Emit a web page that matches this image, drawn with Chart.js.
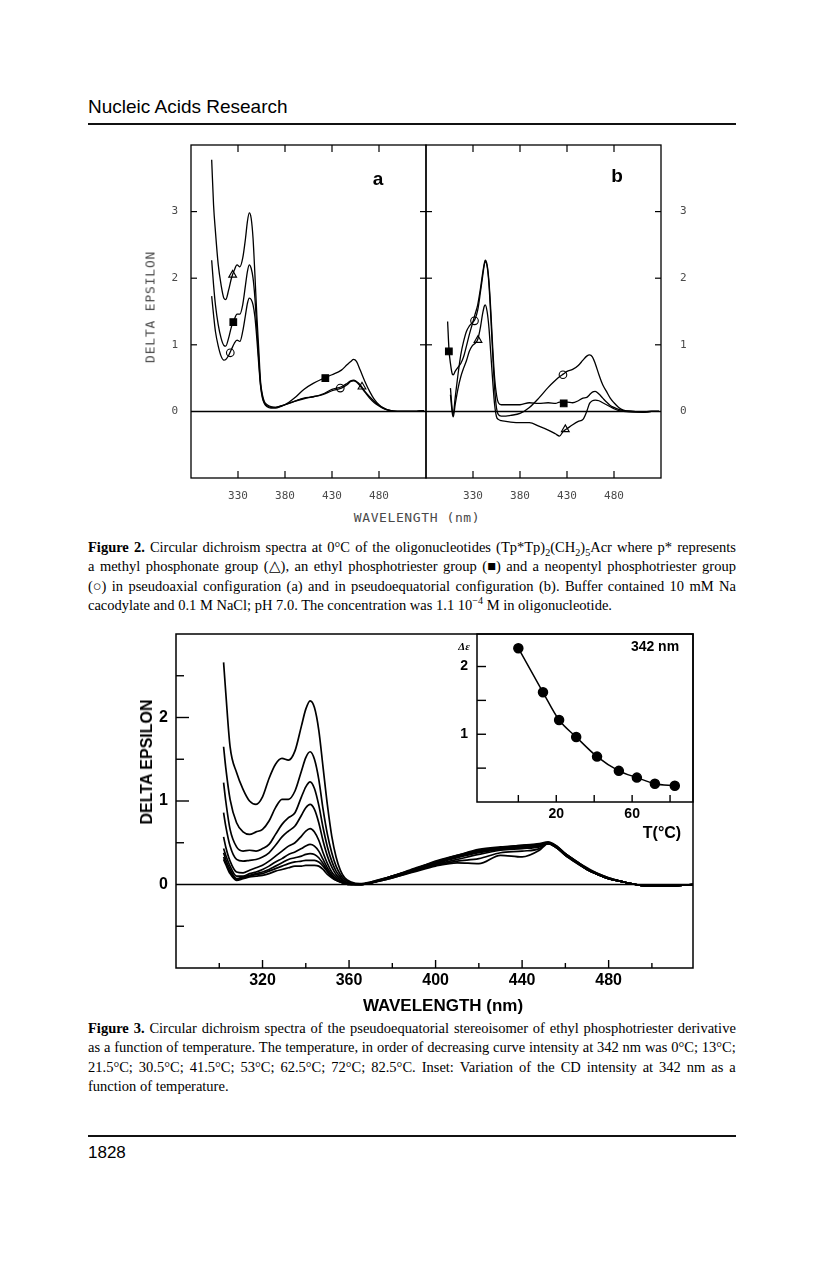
<!DOCTYPE html>
<html>
<head>
<meta charset="utf-8">
<script src="https://cdn.jsdelivr.net/npm/chart.js@4.4.1/dist/chart.umd.min.js"></script>
<style>
  body { margin: 0; background: #fff; }
  #page { position: relative; width: 816px; height: 1275px; overflow: hidden; background: #fff; }
  canvas { position: absolute; }
  .abs { position: absolute; white-space: nowrap; line-height: 1; }
  .ctr { transform: translate(-50%, -50%); }
  .rot { transform: translate(-50%, -50%) rotate(-90deg); }
  .mono { font-family: "DejaVu Sans Mono", "Liberation Mono", monospace; color: #4a4a4a; }
  .hb { font-family: "Liberation Sans Narrow", "Liberation Sans", Arial, sans-serif; font-weight: bold; }
  .rule { position: absolute; left: 88px; width: 648px; height: 2px; background: #111; }
  .cap { position: absolute; left: 88px; width: 648px; font-family: "Liberation Serif", "Times New Roman", serif; font-size: 14.5px; color: #000; }
  .cap div { height: 19.3px; line-height: 19.3px; white-space: nowrap; }
  .jl { display: flex; justify-content: space-between; }
  sub, sup { font-size: 70%; line-height: 0; }
</style>
</head>
<body>
<div id="page">
  <div class="abs" style="left:88px; top:96px; font: 19px 'Liberation Sans', Arial, sans-serif;">Nucleic Acids Research</div>
  <div class="rule" style="top:123px;"></div>

  <!-- Figure 2 -->
  <canvas id="fig2a"></canvas>
  <canvas id="fig2b"></canvas>
  <div class="abs rot mono" style="left:150px; top:307px; font-size:13px; letter-spacing:0.8px;">DELTA EPSILON</div>
  <div class="abs ctr mono" style="left:417px; top:517px; font-size:13px; letter-spacing:0.6px;">WAVELENGTH (nm)</div>
  <div class="abs ctr" style="left:378px; top:179px; font: bold 19px 'Liberation Sans', Arial, sans-serif;">a</div>
  <div class="abs ctr" style="left:617px; top:176px; font: bold 19px 'Liberation Sans', Arial, sans-serif;">b</div>

  <div class="cap" style="top:538px;">
    <div class="jl"><b>Figure</b> <b>2.</b> Circular dichroism spectra at 0°C of the oligonucleotides (Tp*Tp)<sub>2</sub>(CH<sub>2</sub>)<sub>5</sub>Acr where p* represents</div>
    <div class="jl">a methyl phosphonate group (△), an ethyl phosphotriester group (■) and a neopentyl phosphotriester group</div>
    <div class="jl">(○) in pseudoaxial configuration (a) and in pseudoequatorial configuration (b). Buffer contained 10 mM Na</div>
    <div>cacodylate and 0.1 M NaCl; pH 7.0. The concentration was 1.1 10<sup>−4</sup> M in oligonucleotide.</div>
  </div>

  <!-- Figure 3 -->
  <canvas id="fig3"></canvas>
  <canvas id="fig3inset"></canvas>
  <div class="abs rot hb" style="left:147px; top:762px; font-size:16px;">DELTA EPSILON</div>
  <div class="abs ctr hb" style="left:443px; top:1005px; font-size:17px;">WAVELENGTH (nm)</div>
  <div class="abs ctr" style="left:464px; top:646px; font: italic bold 11px 'Liberation Serif', serif;">Δε</div>
  <div class="abs ctr hb" style="left:655px; top:646px; font-size:14px;">342 nm</div>
  <div class="abs ctr hb" style="left:662px; top:833px; font-size:16px;">T(°C)</div>

  <div class="cap" style="top:1019px;">
    <div class="jl"><b>Figure</b> <b>3.</b> Circular dichroism spectra of the pseudoequatorial stereoisomer of ethyl phosphotriester derivative</div>
    <div class="jl">as a function of temperature. The temperature, in order of decreasing curve intensity at 342 nm was 0°C; 13°C;</div>
    <div class="jl">21.5°C; 30.5°C; 41.5°C; 53°C; 62.5°C; 72°C; 82.5°C. Inset: Variation of the CD intensity at 342 nm as a</div>
    <div>function of temperature.</div>
  </div>

  <div class="rule" style="top:1135px;"></div>
  <div class="abs" style="left:88px; top:1143px; font: 17px 'Liberation Sans', Arial, sans-serif;">1828</div>
</div>

<script>
// ---------- Figure 2, panel a (pseudoaxial) ----------
const waveA = [302, 304, 306, 309, 312, 315, 317, 320, 323, 326, 329, 332, 335, 338, 340, 342, 344, 346, 348, 350,
               352, 354, 356, 358, 361, 365, 370, 375, 380, 390, 400, 410, 420, 430, 440, 446, 450, 453, 456, 460,
               465, 470, 475, 480, 485, 490, 500, 510, 520, 528];
const triA  = [3.78, 3.1, 2.7, 2.2, 1.9, 1.7, 1.68, 1.82, 2.0, 2.12, 2.2, 2.17, 2.3, 2.6, 2.85, 2.98, 2.9, 2.6, 2.05, 1.45,
               0.95, 0.45, 0.25, 0.15, 0.1, 0.07, 0.06, 0.08, 0.1, 0.15, 0.2, 0.22, 0.26, 0.33, 0.37, 0.42, 0.46, 0.47, 0.45, 0.4,
               0.3, 0.22, 0.15, 0.09, 0.05, 0.02, 0.0, 0.0, 0.0, 0.01];
const sqA   = [2.27, 1.9, 1.6, 1.3, 1.1, 0.99, 0.98, 1.1, 1.27, 1.38, 1.46, 1.46, 1.6, 1.9, 2.1, 2.2, 2.15, 2.0, 1.7, 1.25,
               0.8, 0.4, 0.22, 0.13, 0.08, 0.06, 0.06, 0.08, 0.1, 0.2, 0.33, 0.42, 0.49, 0.55, 0.62, 0.7, 0.75, 0.78, 0.75, 0.62,
               0.45, 0.3, 0.18, 0.1, 0.05, 0.02, 0.0, 0.0, 0.0, 0.01];
const circA = [1.73, 1.45, 1.2, 0.98, 0.83, 0.77, 0.78, 0.84, 0.93, 1.02, 1.07, 1.05, 1.2, 1.45, 1.62, 1.7, 1.68, 1.6, 1.42, 1.1,
               0.72, 0.38, 0.2, 0.12, 0.07, 0.05, 0.05, 0.07, 0.1, 0.15, 0.19, 0.22, 0.25, 0.31, 0.35, 0.4, 0.45, 0.46, 0.44, 0.38,
               0.29, 0.2, 0.13, 0.08, 0.04, 0.02, 0.0, 0.0, 0.0, 0.01];
// symbols sitting on the curves (wavelength, delta epsilon)
const triMarkA = { x: [324.3, 461.9], y: [2.05, 0.37] };
const sqMarkA  = { x: [325, 422.9],   y: [1.34, 0.5] };
const circMarkA = { x: [321.8, 438.8], y: [0.88, 0.35] };

// ---------- Figure 2, panel b (pseudoequatorial) ----------
const waveB = [303, 304.5, 306, 308, 309, 311, 314, 317, 320, 323, 326, 329, 332, 335, 338, 340, 342, 343, 345, 347,
               349, 351, 353, 355, 357, 360, 365, 370, 380, 390, 400, 410, 418, 422, 426, 430, 436, 442, 447, 451,
               454, 457, 460, 464, 468, 472, 476, 480, 485, 490, 500, 510, 520, 528];
const sqB   = [1.35, 0.92, 0.72, 0.56, 0.55, 0.6, 0.66, 0.72, 0.82, 0.98, 1.15, 1.3, 1.45, 1.6, 1.85, 2.05, 2.22, 2.27, 2.2, 1.95,
               1.5, 0.95, 0.5, 0.25, 0.13, 0.1, 0.1, 0.1, 0.1, 0.13, 0.12, 0.13, 0.12, 0.14, 0.12, 0.14, 0.13, 0.16, 0.2, 0.21,
               0.25, 0.29, 0.3, 0.26, 0.2, 0.14, 0.09, 0.06, 0.03, 0.01, 0.0, -0.01, 0.0, 0.0];
const circB = [null, null, 0.35, 0.02, -0.04, 0.2, 0.55, 0.85, 1.05, 1.2, 1.28, 1.33, 1.38, 1.52, 1.8, 2.0, 2.2, 2.25, 2.18, 1.9,
               1.4, 0.85, 0.35, 0.05, -0.05, -0.07, -0.07, -0.06, -0.03, 0.06, 0.2, 0.36, 0.47, 0.52, 0.56, 0.6, 0.63, 0.69, 0.77, 0.83,
               0.85, 0.82, 0.72, 0.55, 0.4, 0.3, 0.2, 0.13, 0.06, 0.02, 0.0, -0.01, 0.0, 0.0];
const triB  = [null, null, 0.25, -0.03, -0.08, 0.1, 0.34, 0.52, 0.65, 0.76, 0.9, 0.98, 1.02, 1.08, 1.27, 1.45, 1.58, 1.6, 1.5, 1.25,
               0.85, 0.45, 0.1, -0.08, -0.12, -0.14, -0.15, -0.16, -0.17, -0.17, -0.22, -0.28, -0.34, -0.37, -0.3, -0.26, -0.2, -0.15, -0.12, 0.0,
               0.12, 0.16, 0.17, 0.16, 0.13, 0.1, 0.07, 0.04, 0.01, 0.0, -0.01, -0.01, 0.0, 0.0];
const triMarkB = { x: [335.3, 428.2], y: [1.07, -0.27] };
const sqMarkB  = { x: [304.3, 426.5], y: [0.9, 0.12] };
const circMarkB = { x: [331.6, 425.7], y: [1.36, 0.55] };

const fig2XLabels = [330, 380, 430, 480];
const fig2YLabels = [0, 1, 2, 3];

// ---------- Figure 3 : spectra at 9 temperatures ----------
const wl3 = [302, 303, 305, 308, 311, 314, 317, 320, 323, 326, 329, 332, 335, 338, 340, 342, 344, 346, 348, 350,
             352, 354, 356, 358, 361, 365, 370, 380, 390, 400, 410, 420, 430, 440, 448, 452, 456, 460, 465, 470,
             475, 480, 487, 495, 505, 519];
const t0   = [2.66, 2.3, 1.65, 1.34, 1.14, 1.0, 0.96, 1.05, 1.27, 1.44, 1.51, 1.49, 1.6, 1.9, 2.1, 2.2, 2.12, 1.85, 1.4, 0.95,
              0.58, 0.33, 0.17, 0.08, 0.03, 0.01, 0.03, 0.1, 0.18, 0.28, 0.35, 0.42, 0.45, 0.47, 0.49, 0.51, 0.46, 0.37, 0.28, 0.19,
              0.13, 0.08, 0.03, -0.01, -0.02, 0.0];
const t13  = [1.65, 1.4, 1.02, 0.74, 0.63, 0.6, 0.63, 0.66, 0.76, 0.92, 1.02, 1.02, 1.12, 1.36, 1.52, 1.59, 1.5, 1.26, 0.9, 0.6,
              0.38, 0.22, 0.12, 0.06, 0.02, 0.0, 0.03, 0.1, 0.19, 0.27, 0.35, 0.41, 0.44, 0.47, 0.48, 0.5, 0.45, 0.37, 0.28, 0.2,
              0.13, 0.08, 0.03, -0.01, -0.02, 0.0];
const t21  = [1.22, 1.0, 0.66, 0.45, 0.4, 0.41, 0.4, 0.43, 0.48, 0.6, 0.72, 0.8, 0.86, 1.05, 1.17, 1.23, 1.15, 0.95, 0.68, 0.45,
              0.28, 0.16, 0.09, 0.04, 0.01, 0.0, 0.02, 0.09, 0.18, 0.27, 0.34, 0.4, 0.44, 0.46, 0.48, 0.5, 0.46, 0.37, 0.28, 0.19,
              0.12, 0.07, 0.03, -0.01, -0.02, 0.0];
const t30  = [0.86, 0.7, 0.46, 0.3, 0.28, 0.29, 0.3, 0.33, 0.38, 0.47, 0.57, 0.64, 0.7, 0.83, 0.92, 0.96, 0.9, 0.74, 0.52, 0.34,
              0.21, 0.12, 0.07, 0.03, 0.01, 0.0, 0.02, 0.1, 0.18, 0.26, 0.34, 0.41, 0.43, 0.46, 0.47, 0.5, 0.45, 0.36, 0.27, 0.19,
              0.12, 0.07, 0.03, -0.01, -0.02, 0.0];
const t41  = [0.57, 0.45, 0.28, 0.15, 0.14, 0.17, 0.2, 0.23, 0.28, 0.34, 0.4, 0.46, 0.5, 0.58, 0.64, 0.67, 0.63, 0.53, 0.38, 0.25,
              0.15, 0.09, 0.05, 0.02, 0.0, 0.0, 0.02, 0.09, 0.17, 0.26, 0.33, 0.39, 0.43, 0.45, 0.47, 0.49, 0.45, 0.36, 0.27, 0.18,
              0.12, 0.07, 0.03, -0.01, -0.02, 0.0];
const t53  = [0.43, 0.35, 0.22, 0.1, 0.1, 0.13, 0.15, 0.18, 0.22, 0.27, 0.31, 0.36, 0.39, 0.43, 0.46, 0.48, 0.46, 0.4, 0.3, 0.2,
              0.12, 0.07, 0.04, 0.02, 0.0, 0.0, 0.02, 0.1, 0.18, 0.25, 0.32, 0.38, 0.42, 0.44, 0.46, 0.49, 0.44, 0.36, 0.27, 0.18,
              0.12, 0.07, 0.03, -0.01, -0.02, 0.0];
const t62  = [0.38, 0.3, 0.18, 0.07, 0.09, 0.11, 0.13, 0.15, 0.18, 0.22, 0.26, 0.3, 0.32, 0.34, 0.36, 0.37, 0.36, 0.32, 0.25, 0.17,
              0.1, 0.06, 0.03, 0.01, 0.0, 0.0, 0.02, 0.09, 0.17, 0.24, 0.3, 0.36, 0.41, 0.43, 0.45, 0.49, 0.44, 0.35, 0.27, 0.18,
              0.12, 0.07, 0.03, -0.01, -0.02, 0.0];
const t72  = [0.33, 0.26, 0.15, 0.06, 0.08, 0.1, 0.12, 0.13, 0.16, 0.19, 0.22, 0.25, 0.27, 0.28, 0.29, 0.29, 0.29, 0.27, 0.22, 0.15,
              0.09, 0.05, 0.03, 0.01, 0.0, 0.0, 0.02, 0.08, 0.16, 0.23, 0.28, 0.31, 0.38, 0.4, 0.43, 0.5, 0.44, 0.35, 0.26, 0.18,
              0.12, 0.07, 0.03, -0.01, -0.02, 0.0];
const t82  = [0.3, 0.24, 0.13, 0.05, 0.07, 0.09, 0.1, 0.11, 0.13, 0.16, 0.18, 0.2, 0.22, 0.22, 0.23, 0.23, 0.23, 0.22, 0.18, 0.12,
              0.08, 0.05, 0.03, 0.01, 0.0, 0.0, 0.02, 0.08, 0.15, 0.22, 0.26, 0.25, 0.35, 0.33, 0.41, 0.49, 0.44, 0.35, 0.26, 0.18,
              0.12, 0.07, 0.03, -0.01, -0.02, 0.0];
const fig3XLabels = [320, 360, 400, 440, 480];
const fig3YLabels = [0, 1, 2];

// inset: intensity at 342 nm vs temperature
const temps = [0, 13, 21.5, 30.5, 41.5, 53, 62.5, 72, 82.5];
const de342 = [2.27, 1.62, 1.21, 0.96, 0.67, 0.46, 0.36, 0.27, 0.24];
const insetXLabels = [20, 60];
const insetYLabels = [1, 2];

/* chart setup */
Chart.defaults.color = '#000';
Chart.defaults.animation = false;
Chart.defaults.responsive = false;
Chart.defaults.events = [];
Chart.defaults.plugins.legend.display = false;
Chart.defaults.plugins.tooltip.enabled = false;

// box, zero line and the little inward tick marks, all placed through the chart scales
function makeFrame(spec) {
  return {
    id: 'frame',
    afterDatasetsDraw(chart) {
      const ctx = chart.ctx, a = chart.chartArea;
      ctx.save();
      ctx.strokeStyle = '#000';
      ctx.lineWidth = spec.lw;
      ctx.strokeRect(a.left, a.top, a.right - a.left, a.bottom - a.top);
      if (spec.zero) {
        const y0 = chart.scales.y.getPixelForValue(0);
        ctx.lineWidth = spec.zlw;
        ctx.beginPath(); ctx.moveTo(a.left, y0); ctx.lineTo(a.right, y0); ctx.stroke();
      }
      ctx.lineWidth = spec.tlw;
      spec.marks.forEach(m => {
        const s = chart.scales[m.axis];
        m.at.forEach(v => {
          const p = s.getPixelForValue(v);
          ctx.beginPath();
          if (m.side === 'bottom') { ctx.moveTo(p, a.bottom); ctx.lineTo(p, a.bottom - m.len); }
          if (m.side === 'top') { ctx.moveTo(p, a.top); ctx.lineTo(p, a.top + m.len); }
          if (m.side === 'left') { ctx.moveTo(a.left, p); ctx.lineTo(a.left + m.len, p); }
          if (m.side === 'right') { ctx.moveTo(a.right, p); ctx.lineTo(a.right - m.len, p); }
          ctx.stroke();
        });
      });
      ctx.restore();
    }
  };
}

function curve(xs, ys, lw) {
  return {
    data: xs.map((x, i) => ({ x: x, y: ys[i] })),
    borderColor: '#000', borderWidth: lw, pointRadius: 0, fill: false,
    cubicInterpolationMode: 'monotone'
  };
}

function symbols(m, style, r, bg) {
  return {
    data: m.x.map((x, i) => ({ x: x, y: m.y[i] })),
    showLine: false, pointStyle: style, pointRadius: r,
    pointBackgroundColor: bg, pointBorderColor: '#000', pointBorderWidth: 1.1
  };
}

// label overhang padding would move the plot box, so drop it
function noPad(ax) {
  ax.paddingTop = 0; ax.paddingBottom = 0; ax.paddingLeft = 0; ax.paddingRight = 0;
}

// area = chart area in page pixels, pad = room around it for labels
function build(id, area, pad, datasets, sc, spec) {
  const cv = document.getElementById(id);
  cv.width = area.r - area.l + pad.l + pad.r;
  cv.height = area.b - area.t + pad.t + pad.b;
  cv.style.left = (area.l - pad.l) + 'px';
  cv.style.top = (area.t - pad.t) + 'px';
  const left = sc.yside === 'left';
  return new Chart(cv, {
    type: 'line',
    data: { datasets: datasets },
    options: {
      devicePixelRatio: 1,
      layout: { autoPadding: false, padding: { left: left ? 0 : pad.l, right: left ? pad.r : 0, top: pad.t, bottom: 0 } },
      scales: {
        x: {
          type: 'linear', position: 'bottom', min: sc.xmin, max: sc.xmax,
          afterBuildTicks: ax => { ax.ticks = sc.xlab.map(v => ({ value: v })); },
          afterFit: ax => { ax.height = pad.b; noPad(ax); },
          grid: { display: false, drawTicks: false }, border: { display: false },
          ticks: { font: sc.font, color: sc.color, padding: sc.xpad, maxRotation: 0, autoSkip: false }
        },
        y: {
          type: 'linear', position: sc.yside, min: sc.ymin, max: sc.ymax,
          afterBuildTicks: ax => { ax.ticks = sc.ylab.map(v => ({ value: v })); },
          afterFit: ax => { ax.width = left ? pad.l : pad.r; noPad(ax); },
          grid: { display: false, drawTicks: false }, border: { display: false },
          ticks: { font: sc.font, color: sc.color, padding: sc.ypad, autoSkip: false }
        }
      }
    },
    plugins: [makeFrame(spec)]
  });
}

const monoFont = { family: '"DejaVu Sans Mono", "Liberation Mono", monospace', size: 11 };
const boldFont = { family: '"Liberation Sans Narrow", "Liberation Sans", Arial, sans-serif', size: 16, weight: 'bold' };
const boldSmall = { family: '"Liberation Sans Narrow", "Liberation Sans", Arial, sans-serif', size: 14, weight: 'bold' };

const fig2Marks = [
  { axis: 'x', side: 'bottom', at: fig2XLabels, len: 7 },
  { axis: 'x', side: 'top', at: fig2XLabels, len: 7 },
  { axis: 'y', side: 'left', at: [1, 2, 3], len: 6 },
  { axis: 'y', side: 'right', at: [1, 2, 3], len: 6 }
];

build('fig2a', { l: 191, t: 145, r: 426, b: 478 }, { l: 51, t: 6, r: 2, b: 30 }, [
  curve(waveA, triA, 1.3), curve(waveA, sqA, 1.3), curve(waveA, circA, 1.3),
  symbols(triMarkA, 'triangle', 4.5, '#fff'),
  symbols(sqMarkA, 'rect', 4.7, '#000'),
  symbols(circMarkA, 'circle', 3.8, '#fff')
], { xmin: 280, xmax: 530, ymin: -1, ymax: 4, xlab: fig2XLabels, ylab: fig2YLabels, yside: 'left',
     font: monoFont, color: '#4a4a4a', xpad: 12, ypad: 13 },
   { lw: 1.3, zlw: 1.5, tlw: 1.2, zero: true, marks: fig2Marks });

build('fig2b', { l: 426, t: 145, r: 661, b: 478 }, { l: 2, t: 6, r: 35, b: 30 }, [
  curve(waveB, sqB, 1.3), curve(waveB, circB, 1.3), curve(waveB, triB, 1.3),
  symbols(triMarkB, 'triangle', 4.5, '#fff'),
  symbols(sqMarkB, 'rect', 4.7, '#000'),
  symbols(circMarkB, 'circle', 3.8, '#fff')
], { xmin: 280, xmax: 530, ymin: -1, ymax: 4, xlab: fig2XLabels, ylab: fig2YLabels, yside: 'right',
     font: monoFont, color: '#4a4a4a', xpad: 12, ypad: 19 },
   { lw: 1.3, zlw: 1.5, tlw: 1.2, zero: true, marks: fig2Marks });

build('fig3', { l: 176, t: 634, r: 693, b: 968 }, { l: 40, t: 4, r: 2, b: 28 },
  [t0, t13, t21, t30, t41, t53, t62, t72, t82].map(s => curve(wl3, s, 1.7)),
  { xmin: 280, xmax: 519, ymin: -1, ymax: 3, xlab: fig3XLabels, ylab: fig3YLabels, yside: 'left',
    font: boldFont, color: '#000', xpad: 3, ypad: 8 },
  { lw: 1.5, zlw: 1.6, tlw: 1.4, zero: true, marks: [
    { axis: 'x', side: 'bottom', at: [320, 360, 400, 440, 480], len: 8 },
    { axis: 'x', side: 'bottom', at: [300, 340, 380, 420, 460, 500], len: 5 },
    { axis: 'y', side: 'left', at: [1, 2], len: 13 },
    { axis: 'y', side: 'left', at: [-0.5, 0.5, 1.5, 2.5], len: 8 }
  ] });

build('fig3inset', { l: 477, t: 634, r: 693, b: 802 }, { l: 22, t: 4, r: 2, b: 22 }, [
  { data: temps.map((t, i) => ({ x: t, y: de342[i] })), borderColor: '#000', borderWidth: 1.5,
    pointRadius: 4.5, pointBackgroundColor: '#000', pointBorderColor: '#000', cubicInterpolationMode: 'monotone' }
], { xmin: -21.8, xmax: 92.1, ymin: 0, ymax: 2.48, xlab: insetXLabels, ylab: insetYLabels, yside: 'left',
     font: boldSmall, color: '#000', xpad: 4, ypad: 9 },
   { lw: 1.5, zlw: 1.5, tlw: 1.4, zero: false, marks: [
     { axis: 'x', side: 'bottom', at: [0, 20, 40, 60, 80], len: 7 },
     { axis: 'y', side: 'left', at: [0.5, 1, 1.5, 2], len: 9 }
   ] });

/* justified caption lines: spread the words over the full width */
document.querySelectorAll('.jl').forEach(el => {
  el.innerHTML = el.innerHTML.trim().split(/\s+/).map(w => '<span>' + w + '</span>').join('');
});
</script>
</body>
</html>
